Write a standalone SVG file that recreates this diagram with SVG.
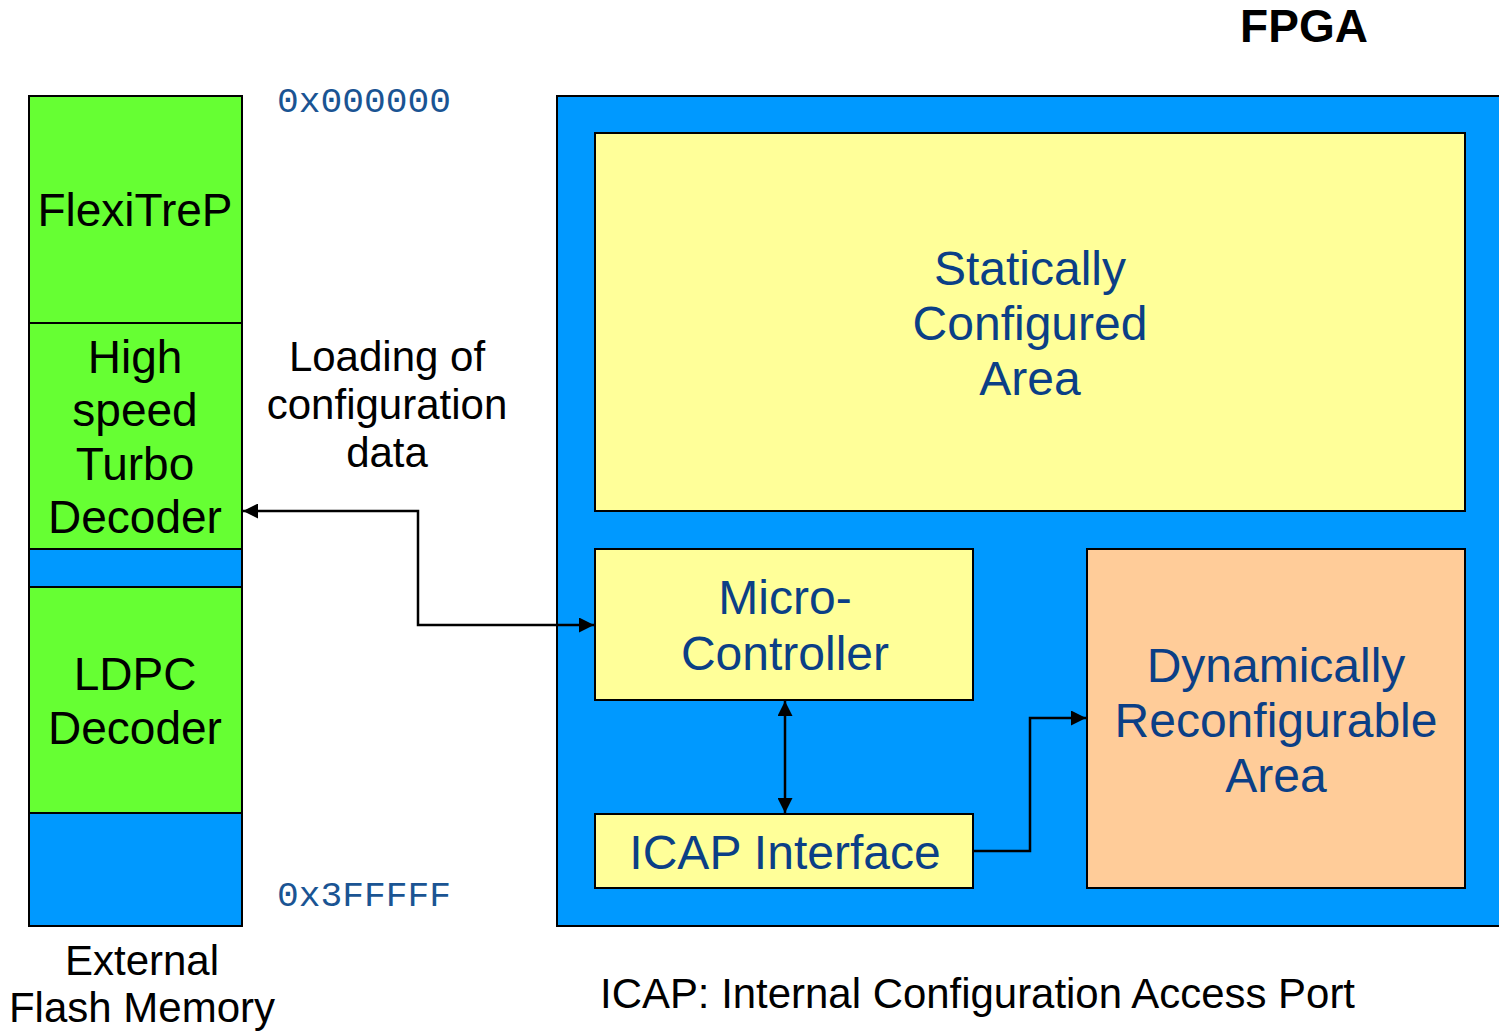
<svg xmlns="http://www.w3.org/2000/svg" width="1499" height="1031" viewBox="0 0 1499 1031">
  <style>
    .box { stroke: #000; stroke-width: 2; }
    .green { fill: #66ff33; }
    .blue { fill: #0099ff; }
    .yellow { fill: #ffff99; }
    .peach { fill: #ffcc99; }
    .lbl { font-family: "Liberation Sans", Arial, sans-serif; font-size: 46px; fill: #000; text-anchor: middle; }
    .in { font-family: "Liberation Sans", Arial, sans-serif; font-size: 48px; fill: #0b3f86; text-anchor: middle; }
    .addr { font-family: "Liberation Mono", "Courier New", monospace; font-size: 35px; fill: #1a5493; }
    .note { font-family: "Liberation Sans", Arial, sans-serif; font-size: 42px; fill: #000; }
    .wire { fill: none; stroke: #000; stroke-width: 2.5; }
  </style>
  <defs>
    <marker id="arrow" viewBox="0 0 10 10" refX="10" refY="5" markerWidth="6" markerHeight="6" orient="auto-start-reverse" markerUnits="strokeWidth">
      <path d="M0,0 L10,5 L0,10 Z" fill="#000"/>
    </marker>
  </defs>

  <rect width="1499" height="1031" fill="#fff"/>

  <!-- external flash memory map -->
  <g id="flash-flexitrep">
    <rect class="box green" x="29" y="96" width="213" height="227"/>
    <text class="lbl" x="135" y="226">FlexiTreP</text>
  </g>
  <g id="flash-turbo">
    <rect class="box green" x="29" y="323" width="213" height="226"/>
    <text class="lbl" x="135" y="373">High</text>
    <text class="lbl" x="135" y="426">speed</text>
    <text class="lbl" x="135" y="480">Turbo</text>
    <text class="lbl" x="135" y="533">Decoder</text>
  </g>
  <g id="flash-gap">
    <rect class="box blue" x="29" y="549" width="213" height="38"/>
  </g>
  <g id="flash-ldpc">
    <rect class="box green" x="29" y="587" width="213" height="226"/>
    <text class="lbl" x="135" y="690">LDPC</text>
    <text class="lbl" x="135" y="744">Decoder</text>
  </g>
  <g id="flash-free">
    <rect class="box blue" x="29" y="813" width="213" height="113"/>
  </g>
  <g id="flash-caption">
    <text class="note" x="142" y="975" text-anchor="middle">External</text>
    <text class="note" x="142" y="1022" text-anchor="middle">Flash Memory</text>
  </g>
  <g id="addresses">
    <text class="addr" x="277" y="112" textLength="174" lengthAdjust="spacingAndGlyphs">0x000000</text>
    <text class="addr" x="277" y="906" textLength="174" lengthAdjust="spacingAndGlyphs">0x3FFFFF</text>
  </g>

  <!-- FPGA -->
  <g id="fpga">
    <rect class="box blue" x="557" y="96" width="950" height="830"/>
    <text x="1304" y="42" text-anchor="middle" font-family="Liberation Sans, Arial, sans-serif" font-weight="bold" font-size="46">FPGA</text>
  </g>
  <g id="static-area">
    <rect class="box yellow" x="595" y="133" width="870" height="378"/>
    <text class="in" x="1030" y="285">Statically</text>
    <text class="in" x="1030" y="340">Configured</text>
    <text class="in" x="1030" y="395">Area</text>
  </g>
  <g id="micro-controller">
    <rect class="box yellow" x="595" y="549" width="378" height="151"/>
    <text class="in" x="785" y="614">Micro-</text>
    <text class="in" x="785" y="670">Controller</text>
  </g>
  <g id="icap-interface">
    <rect class="box yellow" x="595" y="814" width="378" height="74"/>
    <text class="in" x="785" y="869">ICAP Interface</text>
  </g>
  <g id="dynamic-area">
    <rect class="box peach" x="1087" y="549" width="378" height="339"/>
    <text class="in" x="1276" y="682">Dynamically</text>
    <text class="in" x="1276" y="737">Reconfigurable</text>
    <text class="in" x="1276" y="792">Area</text>
  </g>

  <g id="load-label">
    <text class="note" x="387" y="371" text-anchor="middle">Loading of</text>
    <text class="note" x="387" y="419" text-anchor="middle">configuration</text>
    <text class="note" x="387" y="467" text-anchor="middle">data</text>
  </g>
  <g id="legend">
    <text class="note" x="600" y="1008" textLength="755" lengthAdjust="spacingAndGlyphs">ICAP: Internal Configuration Access Port</text>
  </g>

  <!-- connectors -->
  <g id="connectors">
    <path class="wire" d="M243,511 H418 V625 H594" marker-start="url(#arrow)" marker-end="url(#arrow)"/>
    <path class="wire" d="M785,701 V813" marker-start="url(#arrow)" marker-end="url(#arrow)"/>
    <path class="wire" d="M973,851 H1030 V718 H1086" marker-end="url(#arrow)"/>
  </g>
</svg>
